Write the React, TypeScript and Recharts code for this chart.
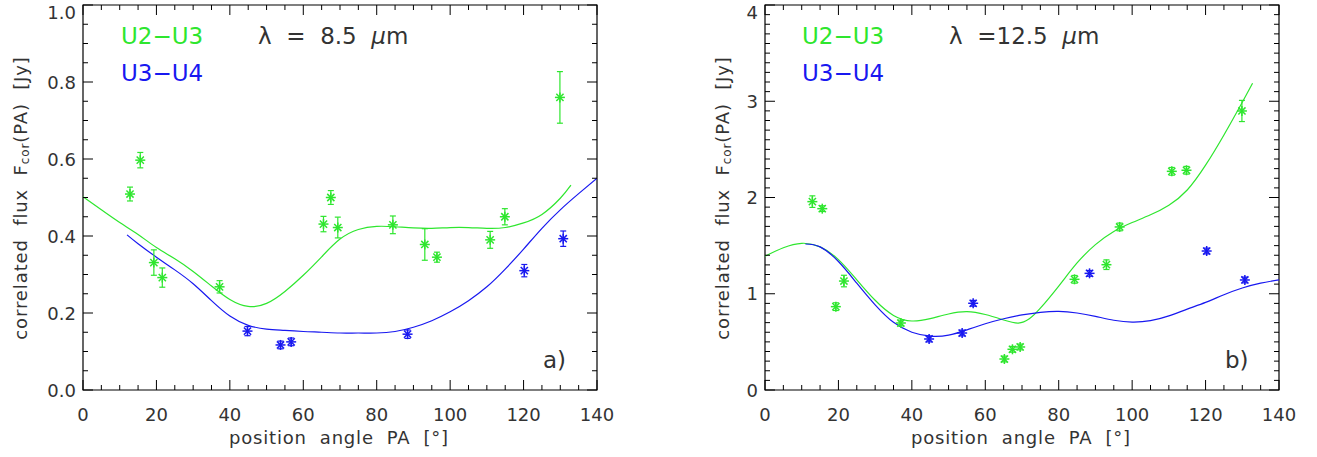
import { ComposedChart, Line, Scatter, ErrorBar, XAxis, YAxis, ReferenceArea } from 'recharts';

const GREEN = '#2ee62e';
const BLUE = '#1818f0';
const FONT = "'DejaVu Sans', sans-serif";
const TXT = '#333';
const SP = '\u00a0';

// panel geometry (plot box 514 x 385)
const PW = 514;
const PH = 385;

// x ticks (position angle, deg)
const xTicks = Array.from({ length: 29 }, (_, i) => i * 5);
const xMajor = [0, 20, 40, 60, 80, 100, 120, 140];

// y ticks
const yTicksA = Array.from({ length: 21 }, (_, i) => Math.round(i * 5) / 100);
const yMajorA = [0, 0.2, 0.4, 0.6, 0.8, 1.0];
const yTicksB = Array.from({ length: 41 }, (_, i) => Math.round(i) / 10);
const yMajorB = [0, 1, 2, 3, 4];

// 8.5 um measurements
const u23_85 = [
  { pa: 12.8, f: 0.509, e: 0.018 },
  { pa: 15.6, f: 0.597, e: 0.02 },
  { pa: 19.3, f: 0.331, e: 0.033 },
  { pa: 21.6, f: 0.292, e: 0.025 },
  { pa: 37.2, f: 0.268, e: 0.016 },
  { pa: 65.5, f: 0.431, e: 0.02 },
  { pa: 67.5, f: 0.5, e: 0.018 },
  { pa: 69.4, f: 0.422, e: 0.027 },
  { pa: 84.4, f: 0.429, e: 0.023 },
  { pa: 93.1, f: 0.378, e: 0.041 },
  { pa: 96.4, f: 0.345, e: 0.013 },
  { pa: 110.9, f: 0.39, e: 0.022 },
  { pa: 114.9, f: 0.45, e: 0.021 },
  { pa: 129.9, f: 0.76, e: 0.067 },
];
const u34_85 = [
  { pa: 44.8, f: 0.153, e: 0.012 },
  { pa: 53.8, f: 0.117, e: 0.01 },
  { pa: 56.7, f: 0.125, e: 0.01 },
  { pa: 88.4, f: 0.145, e: 0.011 },
  { pa: 120.2, f: 0.31, e: 0.016 },
  { pa: 130.8, f: 0.393, e: 0.02 },
];

// 8.5 um model curves
const fit23_85 = [
  { pa: 0, f: 0.502 }, { pa: 5, f: 0.468 }, { pa: 10, f: 0.435 }, { pa: 15, f: 0.404 },
  { pa: 20, f: 0.37 }, { pa: 25, f: 0.341 }, { pa: 30, f: 0.308 }, { pa: 35, f: 0.27 },
  { pa: 40, f: 0.235 }, { pa: 45, f: 0.217 }, { pa: 50, f: 0.225 }, { pa: 55, f: 0.256 },
  { pa: 60, f: 0.298 }, { pa: 65, f: 0.346 }, { pa: 70, f: 0.392 }, { pa: 75, f: 0.417 },
  { pa: 80, f: 0.425 }, { pa: 85, f: 0.424 }, { pa: 90, f: 0.421 }, { pa: 95, f: 0.42 },
  { pa: 100, f: 0.422 }, { pa: 105, f: 0.422 }, { pa: 110, f: 0.42 }, { pa: 115, f: 0.422 },
  { pa: 120, f: 0.434 }, { pa: 125, f: 0.456 }, { pa: 130, f: 0.498 }, { pa: 132.9, f: 0.532 },
];
const fit34_85 = [
  { pa: 12, f: 0.403 }, { pa: 15, f: 0.38 }, { pa: 20, f: 0.345 }, { pa: 25, f: 0.312 },
  { pa: 30, f: 0.276 }, { pa: 35, f: 0.232 }, { pa: 40, f: 0.192 }, { pa: 45, f: 0.168 },
  { pa: 50, f: 0.158 }, { pa: 55, f: 0.155 }, { pa: 60, f: 0.152 }, { pa: 65, f: 0.15 },
  { pa: 70, f: 0.148 }, { pa: 75, f: 0.148 }, { pa: 80, f: 0.148 }, { pa: 85, f: 0.152 },
  { pa: 90, f: 0.163 }, { pa: 95, f: 0.18 }, { pa: 100, f: 0.203 }, { pa: 105, f: 0.232 },
  { pa: 110, f: 0.268 }, { pa: 115, f: 0.314 }, { pa: 120, f: 0.366 }, { pa: 125, f: 0.42 },
  { pa: 130, f: 0.468 }, { pa: 135, f: 0.51 }, { pa: 140, f: 0.55 },
];

// 12.5 um measurements
const u23_125 = [
  { pa: 12.9, f: 1.957, e: 0.06 },
  { pa: 15.6, f: 1.884, e: 0.03 },
  { pa: 19.3, f: 0.866, e: 0.04 },
  { pa: 21.5, f: 1.132, e: 0.06 },
  { pa: 37.0, f: 0.696, e: 0.03 },
  { pa: 65.2, f: 0.322, e: 0.03 },
  { pa: 67.4, f: 0.423, e: 0.03 },
  { pa: 69.5, f: 0.447, e: 0.03 },
  { pa: 84.3, f: 1.15, e: 0.04 },
  { pa: 93.0, f: 1.302, e: 0.05 },
  { pa: 96.6, f: 1.694, e: 0.04 },
  { pa: 110.8, f: 2.272, e: 0.04 },
  { pa: 114.8, f: 2.283, e: 0.04 },
  { pa: 129.9, f: 2.899, e: 0.11 },
];
const u34_125 = [
  { pa: 44.7, f: 0.53, e: 0.03 },
  { pa: 53.7, f: 0.592, e: 0.03 },
  { pa: 56.7, f: 0.901, e: 0.03 },
  { pa: 88.4, f: 1.212, e: 0.03 },
  { pa: 120.3, f: 1.444, e: 0.03 },
  { pa: 130.7, f: 1.143, e: 0.03 },
];

// 12.5 um model curves
const fit23_125 = [
  { pa: 0, f: 1.39 }, { pa: 5, f: 1.478 }, { pa: 10, f: 1.524 }, { pa: 15, f: 1.487 },
  { pa: 20, f: 1.355 }, { pa: 25, f: 1.145 }, { pa: 30, f: 0.932 }, { pa: 35, f: 0.775 },
  { pa: 40, f: 0.717 }, { pa: 45, f: 0.742 }, { pa: 50, f: 0.79 }, { pa: 55, f: 0.814 },
  { pa: 60, f: 0.784 }, { pa: 65, f: 0.727 }, { pa: 69, f: 0.695 }, { pa: 72, f: 0.74 },
  { pa: 75, f: 0.85 }, { pa: 80, f: 1.08 }, { pa: 85, f: 1.32 }, { pa: 90, f: 1.51 },
  { pa: 95, f: 1.647 }, { pa: 100, f: 1.74 }, { pa: 105, f: 1.82 }, { pa: 110, f: 1.92 },
  { pa: 115, f: 2.078 }, { pa: 120, f: 2.336 }, { pa: 125, f: 2.65 }, { pa: 130, f: 2.99 },
  { pa: 132.8, f: 3.187 },
];
const fit34_125 = [
  { pa: 11, f: 1.517 }, { pa: 15, f: 1.487 }, { pa: 20, f: 1.335 }, { pa: 25, f: 1.11 },
  { pa: 30, f: 0.885 }, { pa: 35, f: 0.703 }, { pa: 40, f: 0.6 }, { pa: 45, f: 0.56 },
  { pa: 50, f: 0.57 }, { pa: 55, f: 0.625 }, { pa: 60, f: 0.688 }, { pa: 65, f: 0.74 },
  { pa: 70, f: 0.78 }, { pa: 75, f: 0.807 }, { pa: 80, f: 0.817 }, { pa: 85, f: 0.8 },
  { pa: 90, f: 0.765 }, { pa: 95, f: 0.725 }, { pa: 100, f: 0.705 }, { pa: 105, f: 0.72 },
  { pa: 110, f: 0.77 }, { pa: 115, f: 0.84 }, { pa: 120, f: 0.91 }, { pa: 125, f: 0.99 },
  { pa: 130, f: 1.06 }, { pa: 135, f: 1.11 }, { pa: 140, f: 1.145 },
];

function Asterisk({ cx, cy, color }: any) {
  const r = 5;
  const d = r * 0.72;
  return (
    <g stroke={color} strokeWidth={1.5}>
      <line x1={cx} y1={cy - r} x2={cx} y2={cy + r} />
      <line x1={cx - r} y1={cy} x2={cx + r} y2={cy} />
      <line x1={cx - d} y1={cy - d} x2={cx + d} y2={cy + d} />
      <line x1={cx - d} y1={cy + d} x2={cx + d} y2={cy - d} />
    </g>
  );
}

function XTick({ x, y, payload }: any) {
  const v = payload.value;
  const major = xMajor.includes(v);
  const len = major ? 10 : 5;
  return (
    <g>
      <line x1={x} y1={y} x2={x} y2={y - len} stroke="#000" />
      <line x1={x} y1={y - PH} x2={x} y2={y - PH + len} stroke="#000" />
      {major && (
        <text x={x} y={y + 31} textAnchor="middle" fontSize={18} fontFamily={FONT} fill={TXT}>
          {v}
        </text>
      )}
    </g>
  );
}

function YTick({ x, y, payload, majors, fmt }: any) {
  const v = payload.value;
  const major = majors.some((m: number) => Math.abs(m - v) < 1e-6);
  const len = major ? 10 : 5;
  // the top label sits a little below its tick so it stays on the page
  const ty = Math.max(y + 6.5, 19);
  return (
    <g>
      <line x1={x} y1={y} x2={x + len} y2={y} stroke="#000" />
      <line x1={x + PW} y1={y} x2={x + PW - len} y2={y} stroke="#000" />
      {major && (
        <text x={x - 7} y={ty} textAnchor="end" fontSize={18} fontFamily={FONT} fill={TXT}>
          {fmt(v)}
        </text>
      )}
    </g>
  );
}

function Panel({ left, width, marginLeft, marginRight, yMax, yTicks, yMajor, fmt, g, b, gFit, bFit }: any) {
  return (
    <div style={{ position: 'absolute', left, top: 0 }}>
      <ComposedChart
        width={width}
        height={457}
        margin={{ top: 5, right: marginRight, bottom: 27, left: marginLeft }}
      >
        <XAxis
          dataKey="pa"
          type="number"
          domain={[0, 140]}
          ticks={xTicks}
          interval={0}
          allowDataOverflow
          axisLine={false}
          tickLine={false}
          tickSize={0}
          tickMargin={0}
          height={40}
          tick={(p: any) => <XTick {...p} />}
        />
        <YAxis
          type="number"
          domain={[0, yMax]}
          ticks={yTicks}
          interval={0}
          allowDataOverflow
          axisLine={false}
          tickLine={false}
          tickSize={0}
          tickMargin={0}
          width={40}
          tick={(p: any) => <YTick {...p} majors={yMajor} fmt={fmt} />}
        />
        <ReferenceArea x1={0} x2={140} y1={0} y2={yMax} fill="none" stroke="#000" strokeWidth={1.2} ifOverflow="visible" />
        <Line data={gFit} dataKey="f" type="natural" stroke={GREEN} strokeWidth={1.2} dot={false} isAnimationActive={false} />
        <Line data={bFit} dataKey="f" type="natural" stroke={BLUE} strokeWidth={1.2} dot={false} isAnimationActive={false} />
        <Scatter data={g} dataKey="f" isAnimationActive={false} shape={(p: any) => <Asterisk cx={p.cx} cy={p.cy} color={GREEN} />}>
          <ErrorBar dataKey="e" direction="y" width={3} stroke={GREEN} strokeWidth={1.2} />
        </Scatter>
        <Scatter data={b} dataKey="f" isAnimationActive={false} shape={(p: any) => <Asterisk cx={p.cx} cy={p.cy} color={BLUE} />}>
          <ErrorBar dataKey="e" direction="y" width={3} stroke={BLUE} strokeWidth={1.2} />
        </Scatter>
      </ComposedChart>
    </div>
  );
}

function YLabel({ x }: { x: number }) {
  return (
    <text
      x={x}
      y={198}
      transform={`rotate(-90 ${x} 198)`}
      textAnchor="middle"
      dominantBaseline="central"
      fontSize={18}
      letterSpacing={0.9}
      fontFamily={FONT}
      fill={TXT}
    >
      {`correlated${SP}${SP}flux${SP}${SP}F`}
      <tspan dy={5} fontSize={12}>cor</tspan>
      <tspan dy={-5}>{`(PA)${SP}${SP}[Jy]`}</tspan>
    </text>
  );
}

function Notes({ x0, lx, lam, tag, tx }: any) {
  return (
    <g fontFamily={FONT}>
      <text x={x0} y={44} fontSize={23} fill={GREEN}>U2−U3</text>
      <text x={x0} y={81} fontSize={23} fill={BLUE}>U3−U4</text>
      <text x={lx} y={44} fontSize={23} fill={TXT}>
        {lam}
        <tspan fontStyle="italic">μ</tspan>m
      </text>
      <text x={tx} y={368} fontSize={23} fill={TXT}>{tag}</text>
    </g>
  );
}

export default function App() {
  return (
    <div style={{ position: 'absolute', left: 0, top: 0, width: 1317, height: 457, background: '#fff' }}>
      <Panel
        left={0} width={660} marginLeft={43} marginRight={63}
        yMax={1} yTicks={yTicksA} yMajor={yMajorA} fmt={(v: number) => v.toFixed(1)}
        g={u23_85} b={u34_85} gFit={fit23_85} bFit={fit34_85}
      />
      <Panel
        left={660} width={657} marginLeft={65} marginRight={38}
        yMax={4} yTicks={yTicksB} yMajor={yMajorB} fmt={(v: number) => String(v)}
        g={u23_125} b={u34_125} gFit={fit23_125} bFit={fit34_125}
      />
      <svg width={1317} height={457} style={{ position: 'absolute', left: 0, top: 0, pointerEvents: 'none' }}>
        <YLabel x={20} />
        <YLabel x={722} />
        <text x={339} y={444} textAnchor="middle" fontSize={18} letterSpacing={0.8} fontFamily={FONT} fill={TXT}>
          {`position${SP}${SP}angle${SP}${SP}PA${SP}${SP}[°]`}
        </text>
        <text x={1021} y={444} textAnchor="middle" fontSize={18} letterSpacing={0.8} fontFamily={FONT} fill={TXT}>
          {`position${SP}${SP}angle${SP}${SP}PA${SP}${SP}[°]`}
        </text>
        <Notes x0={121} lx={258} lam={`λ${SP}${SP}=${SP}${SP}8.5${SP}${SP}`} tag="a)" tx={543} />
        <Notes x0={802} lx={949} lam={`λ${SP}${SP}=12.5${SP}${SP}`} tag="b)" tx={1225} />
      </svg>
    </div>
  );
}
